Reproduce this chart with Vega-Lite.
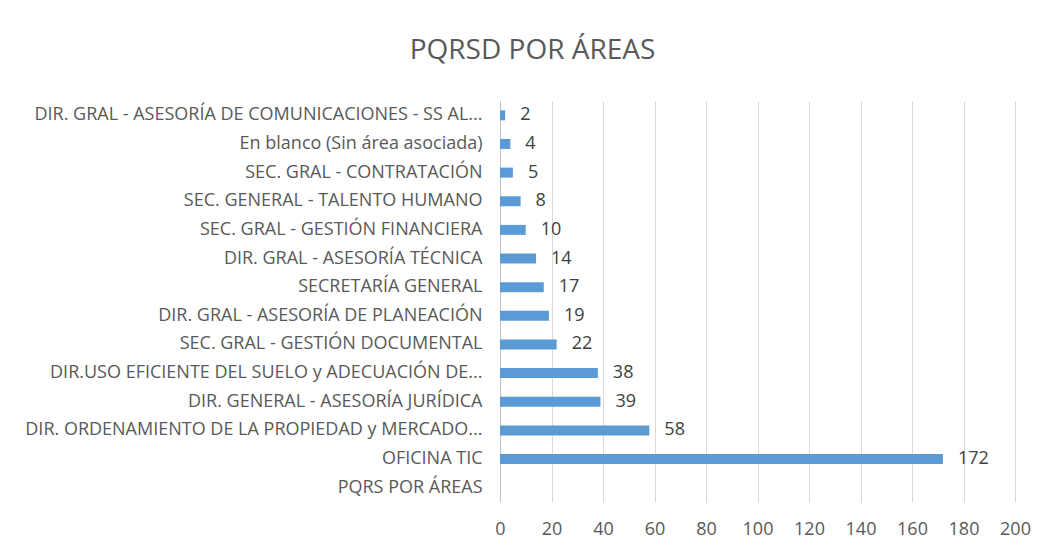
{
  "$schema": "https://vega.github.io/schema/vega-lite/v6.json",
  "autosize": "none",
  "width": 515,
  "height": 401,
  "padding": {"left": 500, "top": 101, "right": 26, "bottom": 45},
  "background": "white",
  "title": {
    "text": "PQRSD POR ÁREAS",
    "font": "Open Sans",
    "fontSize": 28,
    "fontWeight": "normal",
    "color": "#595959",
    "baseline": "alphabetic",
    "anchor": "middle",
    "offset": 14,
    "dx": -225
  },
  "data": {
    "values": [
      {"area": "DIR. GRAL - ASESORÍA DE COMUNICACIONES - SS AL...", "value": 2},
      {"area": "En blanco (Sin área asociada)", "value": 4},
      {"area": "SEC. GRAL - CONTRATACIÓN", "value": 5},
      {"area": "SEC. GENERAL - TALENTO HUMANO", "value": 8},
      {"area": "SEC. GRAL - GESTIÓN FINANCIERA", "value": 10},
      {"area": "DIR. GRAL - ASESORÍA TÉCNICA", "value": 14},
      {"area": "SECRETARÍA GENERAL", "value": 17},
      {"area": "DIR. GRAL - ASESORÍA DE PLANEACIÓN", "value": 19},
      {"area": "SEC. GRAL - GESTIÓN DOCUMENTAL", "value": 22},
      {"area": "DIR.USO EFICIENTE DEL SUELO y ADECUACIÓN DE...", "value": 38},
      {"area": "DIR. GENERAL - ASESORÍA JURÍDICA", "value": 39},
      {"area": "DIR. ORDENAMIENTO DE LA PROPIEDAD y MERCADO...", "value": 58},
      {"area": "OFICINA TIC", "value": 172},
      {"area": "PQRS POR ÁREAS", "value": null}
    ]
  },
  "encoding": {
    "y": {
      "field": "area",
      "type": "nominal",
      "sort": null,
      "scale": {
        "domain": [
          "DIR. GRAL - ASESORÍA DE COMUNICACIONES - SS AL...",
          "En blanco (Sin área asociada)",
          "SEC. GRAL - CONTRATACIÓN",
          "SEC. GENERAL - TALENTO HUMANO",
          "SEC. GRAL - GESTIÓN FINANCIERA",
          "DIR. GRAL - ASESORÍA TÉCNICA",
          "SECRETARÍA GENERAL",
          "DIR. GRAL - ASESORÍA DE PLANEACIÓN",
          "SEC. GRAL - GESTIÓN DOCUMENTAL",
          "DIR.USO EFICIENTE DEL SUELO y ADECUACIÓN DE...",
          "DIR. GENERAL - ASESORÍA JURÍDICA",
          "DIR. ORDENAMIENTO DE LA PROPIEDAD y MERCADO...",
          "OFICINA TIC",
          "PQRS POR ÁREAS"
        ],
        "paddingInner": 0,
        "paddingOuter": 0.0
      },
      "axis": {
        "title": null,
        "ticks": false,
        "domain": true,
        "domainColor": "#bfbfbf",
        "labelFont": "Open Sans",
        "labelFontSize": 18,
        "labelColor": "#595959",
        "labelPadding": 18,
        "labelLimit": 600
      }
    },
    "x": {
      "field": "value",
      "type": "quantitative",
      "scale": {"domain": [0, 200], "nice": false},
      "axis": {
        "title": null,
        "values": [0, 20, 40, 60, 80, 100, 120, 140, 160, 180, 200],
        "grid": true,
        "gridColor": "#d9d9d9",
        "domain": false,
        "ticks": false,
        "labelFlush": false,
        "labelOverlap": false,
        "labelFont": "Open Sans",
        "labelFontSize": 18,
        "labelColor": "#595959",
        "labelPadding": 18
      }
    }
  },
  "layer": [
    {"mark": {"type": "bar", "color": "#5b9bd5", "size": 10}},
    {
      "transform": [{"filter": "datum.value != null"}],
      "mark": {"type": "text", "align": "left", "dx": 15, "font": "Open Sans", "fontSize": 18, "color": "#404040"},
      "encoding": {"text": {"field": "value", "type": "quantitative"}}
    }
  ],
  "config": {"view": {"stroke": null}}
}
